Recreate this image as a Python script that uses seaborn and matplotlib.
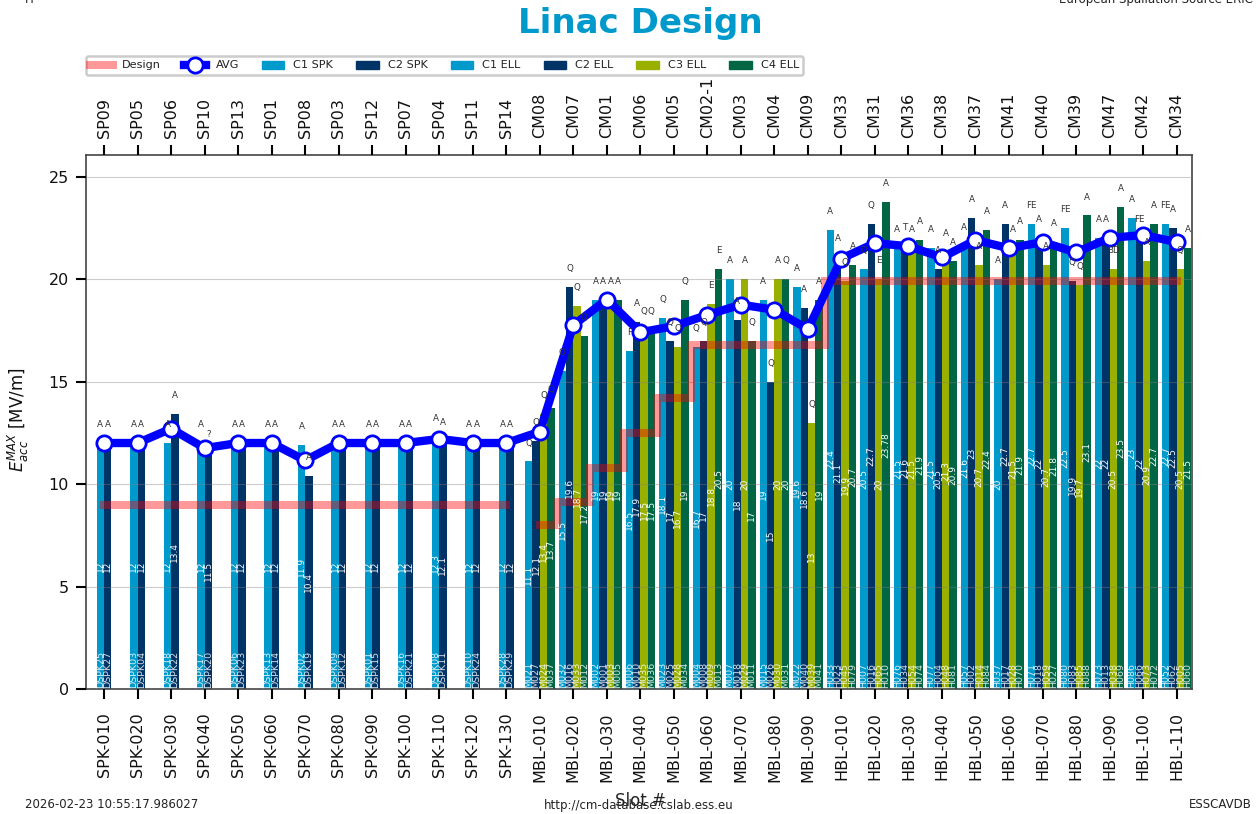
import matplotlib
matplotlib.use("Agg")
import matplotlib.pyplot as plt
from matplotlib.lines import Line2D
from matplotlib.patches import Patch
import numpy as np
import pandas as pd
import seaborn as sns

slots = ["SPK-010","SPK-020","SPK-030","SPK-040","SPK-050","SPK-060","SPK-070","SPK-080","SPK-090","SPK-100","SPK-110","SPK-120","SPK-130",
         "MBL-010","MBL-020","MBL-030","MBL-040","MBL-050","MBL-060","MBL-070","MBL-080","MBL-090",
         "HBL-010","HBL-020","HBL-030","HBL-040","HBL-050","HBL-060","HBL-070","HBL-080","HBL-090","HBL-100","HBL-110"]
modules = ["SP09","SP05","SP06","SP10","SP13","SP01","SP08","SP03","SP12","SP07","SP04","SP11","SP14",
           "CM08","CM07","CM01","CM06","CM05","CM02-1","CM03","CM04","CM09",
           "CM33","CM31","CM36","CM38","CM37","CM41","CM40","CM39","CM47","CM42","CM34"]
avg = [12,12,12.7,11.75,12,12,11.15,12,12,12,12.2,12,12,
       12.55,17.75,19,17.4,17.7,18.25,18.75,18.5,17.55,
       21,21.75,21.6,21.05,21.9,21.5,21.8,21.3,22,22.15,21.8]
design_spk = [9]*13
design_ell = [8,9.1,10.8,12.5,14.2,16.8,16.8,16.8,16.8,
              19.9,19.9,19.9,19.9,19.9,19.9,19.9,19.9,19.9,19.9,19.9]

c1_spk = [12,12,12,12,12,12,11.9,12,12,12,12.3,12,12]
c2_spk = [12,12,13.4,11.5,12,12,10.4,12,12,12,12.1,12,12]
c1_ell = [11.1,15.5,19,16.5,18.1,16.7,20,19,19.6, 22.4,20.5,21.5,21.5,21.6,20,22.7,22.5,22,23,22.7]
c2_ell = [12.1,19.6,19,17.9,17,17,18,15,18.6, 21.1,22.7,21.6,20.5,23,22.7,22,19.9,22,22,22.5]
c3_ell = [13.4,18.7,19,17.5,16.7,18.8,20,20,13, 19.9,20,21.5,21.3,20.7,21.5,20.7,19.7,20.5,20.9,20.5]
c4_ell = [13.7,17.2,19,17.5,19,20.5,17,20,19, 20.7,23.78,21.9,20.9,22.4,21.9,21.8,23.1,23.5,22.7,21.5]

id_c1_spk = ["DSPK25","DSPK03","DSPK18","DSPK17","DSPK06","DSPK13","DSPK02","DSPK09","DSPK01","DSPK16","DSPK08","DSPK10","DSPK28"]
id_c2_spk = ["DSPK27","DSPK04","DSPK22","DSPK20","DSPK23","DSPK14","DSPK19","DSPK12","DSPK15","DSPK21","DSPK11","DSPK24","DSPK29"]
id_c1_ell = ["M021","M032","M002","M006","M023","M004","M007","M015","M022",
             "H033","H007","H076","H077","H057","H037","H071","H080","H073","H086","H052"]
id_c2_ell = ["M027","M016","M001","M010","M025","M008","M018","M026","M040",
             "H023","H016","H034","H004","H002","H017","H018","H083","H013","H066","H062"]
id_c3_ell = ["M024","M033","M003","M035","M028","M009","M029","M030","M039",
             "H045","H065","H054","H048","H014","H028","H059","H085","H038","H073","H005"]
id_c4_ell = ["M037","M012","M005","M036","M034","M013","M011","M031","M041",
             "H079","H010","H074","H081","H084","H070","H027","H088","H069","H072","H060"]

st_c1_spk = ["A"]*13
st_c2_spk = ["A","A","A","?","A","A","A","A","A","A","A","A","A"]
st_c1_ell = ["Q","Q","A","F","Q","Q","A","A","A", "A","Q","A","A","A","A","FE","FE","A","A","FE"]
st_c2_ell = ["Q","Q","A","A","Q","Q","A","Q","A", "A","Q","T","A","A","A","A","Q","A","FE","A"]
st_c3_ell = ["Q","Q","A","Q","Q","E","A","A","Q", "Q","E","A","A","A","A","A","Q","BD","A","Q"]
st_c4_ell = ["Q","Q","A","Q","Q","E","Q","Q","A", "A","A","A","A","A","A","A","A","A","A","A"]

C1, C2, C3, C4 = "#0099cc", "#003366", "#99b000", "#006644"

sns.set_theme(style="white")
plt.rcParams["font.family"] = ["DejaVu Sans"]
plt.rcParams["mathtext.default"] = "it"

fig = plt.figure(figsize=(12.6, 8.14), dpi=100)
ax = fig.add_axes([86/1260, 1-689/814, 1106/1260, 534/814])

n_spk = len(c1_spk)
pos = np.arange(len(slots))
pos_spk = pos[:n_spk]
pos_ell = pos[n_spk:]

spk_df = pd.concat([
    pd.DataFrame({"pos": pos_spk, "value": c1_spk, "series": "C1 SPK"}),
    pd.DataFrame({"pos": pos_spk, "value": c2_spk, "series": "C2 SPK"}),
])
ell_df = pd.concat([
    pd.DataFrame({"pos": pos_ell, "value": v, "series": s})
    for v, s in [(c1_ell, "C1 ELL"), (c2_ell, "C2 ELL"), (c3_ell, "C3 ELL"), (c4_ell, "C4 ELL")]
])

common = dict(x="pos", y="value", hue="series", native_scale=True, errorbar=None,
              legend=False, saturation=1, gap=0, ax=ax, zorder=2, linewidth=0)
sns.barplot(data=spk_df, palette={"C1 SPK": C1, "C2 SPK": C2}, width=0.44, **common)
sns.barplot(data=ell_df, palette={"C1 ELL": C1, "C2 ELL": C2, "C3 ELL": C3, "C4 ELL": C4}, width=0.88, **common)

design_red = "#ff0000"
line_kw = dict(color=design_red, alpha=0.4, lw=5.8, ax=ax, legend=False, zorder=3, errorbar=None)
sns.lineplot(x=pos_spk, y=design_spk, **line_kw)
sns.lineplot(x=pos_ell, y=design_ell, drawstyle="steps-mid", **line_kw)
for l in ax.lines:
    l.set_solid_capstyle("projecting")
    l.set_solid_joinstyle("miter")

sns.lineplot(x=pos, y=avg, color="#0000ff", lw=6, marker="o", markersize=11,
             markerfacecolor="white", markeredgecolor="#0000ff", markeredgewidth=2,
             ax=ax, legend=False, zorder=4, errorbar=None)

def annotate(offset, values, ids, status, xs):
    for x, v, cid, s in zip(xs, values, ids, status):
        cx = x + offset
        ax.text(cx, v/2, f"{v:g}", rotation=90, ha="center", va="center",
                color="white", fontsize=6.5, zorder=5)
        ax.text(cx, 0.05, cid, rotation=90, ha="center", va="bottom",
                color="white", fontsize=6.8, zorder=5, alpha=0.85)
        ax.text(cx, v + 0.9, s, ha="center", va="center", color="#333333",
                fontsize=6.3, zorder=6)

annotate(-0.11, c1_spk, id_c1_spk, st_c1_spk, pos_spk)
annotate(0.11, c2_spk, id_c2_spk, st_c2_spk, pos_spk)
annotate(-0.33, c1_ell, id_c1_ell, st_c1_ell, pos_ell)
annotate(-0.11, c2_ell, id_c2_ell, st_c2_ell, pos_ell)
annotate(0.11, c3_ell, id_c3_ell, st_c3_ell, pos_ell)
annotate(0.33, c4_ell, id_c4_ell, st_c4_ell, pos_ell)

ax.set_xlim(-0.54, 32.46)
ax.set_ylim(0, 26.05)
ax.set_yticks([0, 5, 10, 15, 20, 25])
ax.set_xticks(pos)
ax.set_xticklabels(slots, rotation=90, fontsize=11.5, color="#111111")
ax.tick_params(axis="x", length=7.2, width=1.5, color="black", bottom=True, pad=9.5)
ax.tick_params(axis="y", length=7.2, width=1.5, color="black", left=True, labelsize=11.5, labelcolor="#111111", pad=5)
ax.yaxis.grid(True, color="gray", alpha=0.4, lw=0.8, zorder=2.5)
ax.xaxis.grid(False)
ax.set_axisbelow(False)
for s in ax.spines.values():
    s.set_color("#444444")
    s.set_linewidth(1.2)
ax.set_xlabel("Slot #", fontsize=12, color="#222222")
ax.xaxis.set_label_coords((640-86)/1106, -(801-689)/534, transform=ax.transAxes)
ax.xaxis.label.set_va("center")
ax.set_ylabel(r"$E_{acc}^{MAX}$ [MV/m]", fontsize=12, color="#111111")
ax.yaxis.set_label_coords((31-86)/1106, (689-420)/534, transform=ax.transAxes)

top = ax.twiny()
top.set_xlim(ax.get_xlim())
top.set_xticks(pos)
top.set_xticklabels(modules, rotation=90, fontsize=11.5, color="#111111")
top.tick_params(axis="x", length=7.2, width=1.5, color="black", top=True, pad=5)
top.grid(False)
for s in top.spines.values():
    s.set_visible(False)

handles = [
    Line2D([], [], color=design_red, alpha=0.4, lw=5.8, solid_capstyle="projecting"),
    Line2D([], [], color="#0000ff", lw=6, marker="o", markersize=11, markerfacecolor="white",
           markeredgecolor="#0000ff", markeredgewidth=2, solid_capstyle="projecting"),
    Patch(color=C1), Patch(color=C2), Patch(color=C1), Patch(color=C2), Patch(color=C3), Patch(color=C4),
]
labels = ["Design", "AVG", "C1 SPK", "C2 SPK", "C1 ELL", "C2 ELL", "C3 ELL", "C4 ELL"]
leg = fig.legend(handles, labels, ncol=8, fontsize=8.1, loc="upper left", columnspacing=2.05,
                 bbox_to_anchor=(86/1260, 1-56/814), borderaxespad=0, frameon=True,
                 fancybox=True, edgecolor="#cccccc", facecolor="white", framealpha=1)
leg.get_frame().set_linewidth(1.8)
for t in leg.get_texts():
    t.set_color("#222222")

fig.text(640/1260, 1-24/814, "Linac Design", ha="center", va="center",
         fontsize=24.5, fontweight="bold", color="#0099cc")
fig.text(25/1260, 1-805/814, "2026-02-23 10:55:17.986027", ha="left", va="center", fontsize=8.5, color="#222222")
fig.text(639/1260, 1-805/814, "http://cm-database.cslab.ess.eu", ha="center", va="center", fontsize=8.5, color="#222222")
fig.text(1252/1260, 1-805/814, "ESSCAVDB", ha="right", va="center", fontsize=8.5, color="#222222")
fig.text(1253/1260, 1-(-1)/814, "European Spallation Source ERIC", ha="right", va="center", fontsize=8.5, color="#222222")
fig.text(25/1260, 1-(-1)/814, "H", ha="left", va="center", fontsize=8.5, color="#222222")

fig.savefig("out.png", dpi=100)
